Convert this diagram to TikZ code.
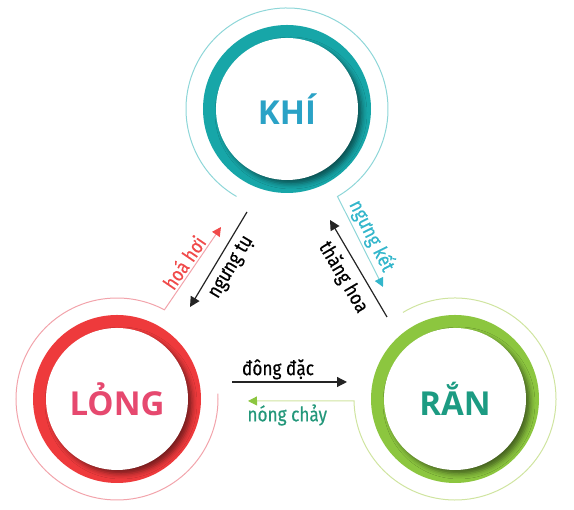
\documentclass[tikz,border=0pt]{standalone}
\usepackage{fontspec}
\setmainfont{Open Sans}
\newfontfamily\statefont{Open Sans}
\newfontfamily\labfont[FakeStretch=0.86,FakeBold=0.4]{Fira Sans}
\usepackage{tikz}
\usetikzlibrary{arrows.meta,shadows,shadows.blur}
\definecolor{khiring}{HTML}{17A6A8}
\definecolor{khithin}{HTML}{8ED6D8}
\definecolor{khitext}{HTML}{2AA2C6}
\definecolor{longring}{HTML}{EE3A3C}
\definecolor{longthin}{HTML}{F2A3AB}
\definecolor{longtext}{HTML}{E6496F}
\definecolor{ranring}{HTML}{8CC63F}
\definecolor{ranthin}{HTML}{CFE4A0}
\definecolor{rantext}{HTML}{1C9B82}
\definecolor{ketcol}{HTML}{33B6CB}
\definecolor{hoicol}{HTML}{F04A4A}
\definecolor{chaycol}{HTML}{8CC63F}
\definecolor{chaytext}{HTML}{23977A}
\definecolor{blk}{HTML}{242424}
\tikzset{state/.style={circle,inner sep=0pt,minimum size=142pt,
    preaction={draw=#1,line width=26pt},
    blur shadow={shadow xshift=4pt,shadow yshift=-4pt,shadow blur radius=5pt,shadow opacity=50},
    fill=white,font=\statefont\bfseries\fontsize{33}{33}\selectfont}}
\tikzset{ctip/.style={-{Triangle[length=9pt,width=9pt,color=#1]}}}
\tikzstyle{thinring}=[line width=1pt]
\tikzstyle{blkarrow}=[draw=blk,line width=1.2pt,-{Triangle[length=10pt,width=10pt]}]
\tikzstyle{lab}=[font=\labfont\fontsize{20}{20}\selectfont,inner sep=2pt]

\begin{document}
\begin{tikzpicture}[x=1pt,y=1pt]
\path[use as bounding box] (0,0) rectangle (574,510);

\node[state=khiring,text=khitext] (khi) at (287,401) {KHÍ};
\node[state=longring,text=longtext] (long) at (117,111) {LỎNG};
\node[state=ranring,text=rantext] (ran) at (455,111) {RẮN};

\coordinate (ket) at (383,223);
\coordinate (hoi) at (221,283);
\coordinate (chay) at (248,109);
\coordinate (tu1) at (247,298);
\coordinate (tu2) at (190,203);
\coordinate (thang1) at (387,193);
\coordinate (thang2) at (330,290);
\coordinate (dac1) at (232,128);
\coordinate (dac2) at (347,128);

% outer thin rings ending in arrows
\draw[thinring,khithin,ctip=ketcol] (khi.center) ++(240:101)
  arc[start angle=240,end angle=-60,radius=101]
  -- node[lab,above,sloped,text=ketcol] {ngưng kết} (ket);
\draw[thinring,longthin,ctip=hoicol] (long.center) ++(3:101)
  arc[start angle=3,end angle=-298,radius=101]
  -- node[lab,above,sloped,text=hoicol] {hoá hơi} (hoi);
\draw[thinring,ranthin,ctip=chaycol] (ran.center) ++(121:101)
  arc[start angle=121,end angle=-179,radius=101]
  -- node[lab,below=1pt,pos=0.63,text=chaytext] {nóng chảy} (chay);

\draw[blkarrow] (tu1) -- node[lab,below=4pt,sloped] {ngưng tụ} (tu2);
\draw[blkarrow] (thang1) -- node[lab,below=5pt,sloped] {thăng hoa} (thang2);
\draw[blkarrow] (dac1) -- node[lab,above,pos=0.4] {đông đặc} (dac2);
\end{tikzpicture}
\end{document}
